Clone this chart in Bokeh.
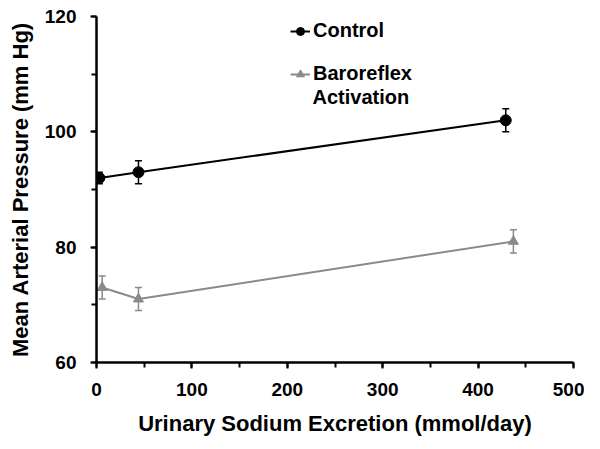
from bokeh.plotting import figure
from bokeh.models import ColumnDataSource, Whisker, TeeHead, Legend, LegendItem, Range1d, FixedTicker, Label
from bokeh.embed import file_html
from bokeh.resources import INLINE

# Data
ctrl_x = [3, 44, 429]
ctrl_y = [92, 93, 102]
ctrl_err = [1, 2, 2]
baro_x = [6, 44, 437]
baro_y = [73, 71, 81]
baro_err = [2, 2, 2]
x_ticks = [0, 100, 200, 300, 400, 500]
y_ticks = [60, 80, 100, 120]

FONT = "Liberation Sans"
BLACK = "#000000"
GRAY = "#8a8a8a"

p = figure(width=584, height=440, output_backend="svg", toolbar_location=None,
           x_range=Range1d(0, 500), y_range=Range1d(60, 120),
           min_border_left=96, min_border_right=11, min_border_top=16, min_border_bottom=78)
p.outline_line_color = None
p.grid.grid_line_color = None
p.background_fill_color = "white"
p.border_fill_color = "white"

def err_src(xs, ys, es):
    return ColumnDataSource(dict(x=xs, y=ys, lo=[y - e for y, e in zip(ys, es)], hi=[y + e for y, e in zip(ys, es)]))

cs = err_src(ctrl_x, ctrl_y, ctrl_err)
bs = err_src(baro_x, baro_y, baro_err)

for src, col in ((cs, BLACK), (bs, GRAY)):
    w = Whisker(source=src, base="x", lower="lo", upper="hi", line_color=col, line_width=1.5,
                upper_head=TeeHead(size=7, line_color=col, line_width=1.5),
                lower_head=TeeHead(size=7, line_color=col, line_width=1.5))
    p.add_layout(w)

cl = p.line("x", "y", source=cs, line_color=BLACK, line_width=2)
cm = p.scatter("x", "y", source=cs, marker="circle", size=11, fill_color=BLACK, line_color=BLACK)
bl = p.line("x", "y", source=bs, line_color=GRAY, line_width=2)
bm = p.scatter("x", "y", source=bs, marker="triangle", size=10, fill_color=GRAY, line_color=GRAY)

# Axes
for ax in (p.xaxis[0], p.yaxis[0]):
    ax.axis_line_width = 2.5
    ax.axis_line_color = BLACK
    ax.major_tick_line_width = 2
    ax.minor_tick_line_width = 2
    ax.major_tick_out = 6
    ax.major_tick_in = 0
    ax.minor_tick_out = 5
    ax.minor_tick_in = 0
    ax.major_label_text_font = FONT
    ax.major_label_text_font_style = "bold"
    ax.major_label_text_font_size = "19px"
    ax.major_label_text_color = BLACK
    ax.axis_label_text_font = FONT
    ax.axis_label_text_font_style = "bold"
    ax.axis_label_text_font_size = "22px"
    ax.axis_label_text_color = BLACK

p.xaxis[0].ticker = FixedTicker(ticks=x_ticks, minor_ticks=list(range(0, 501, 50)))
p.yaxis[0].ticker = FixedTicker(ticks=y_ticks, minor_ticks=list(range(60, 121, 10)))
p.xaxis[0].axis_label = "Urinary Sodium Excretion (mmol/day)"
p.yaxis[0].axis_label = "Mean Arterial Pressure (mm Hg)"
p.xaxis[0].major_label_standoff = 14
p.yaxis[0].major_label_standoff = 14
p.xaxis[0].axis_label_standoff = 12
p.yaxis[0].axis_label_standoff = 9

legend = Legend(items=[LegendItem(label="Control", renderers=[cl, cm]),
                       LegendItem(label="Baroreflex", renderers=[bl, bm])],
                location=(194, 277), border_line_color=None, background_fill_alpha=0,
                glyph_width=20, glyph_height=20, label_standoff=3, spacing=20, padding=4,
                label_text_font=FONT, label_text_font_style="bold", label_text_font_size="20px",
                label_text_color=BLACK)
p.add_layout(legend)

p.add_layout(Label(x=216, y=266, x_units="screen", y_units="screen", text="Activation",
                   text_font=FONT, text_font_style="bold", text_font_size="20px",
                   text_color=BLACK, text_baseline="middle"))

open("out.html", "w").write(file_html(p, INLINE))
